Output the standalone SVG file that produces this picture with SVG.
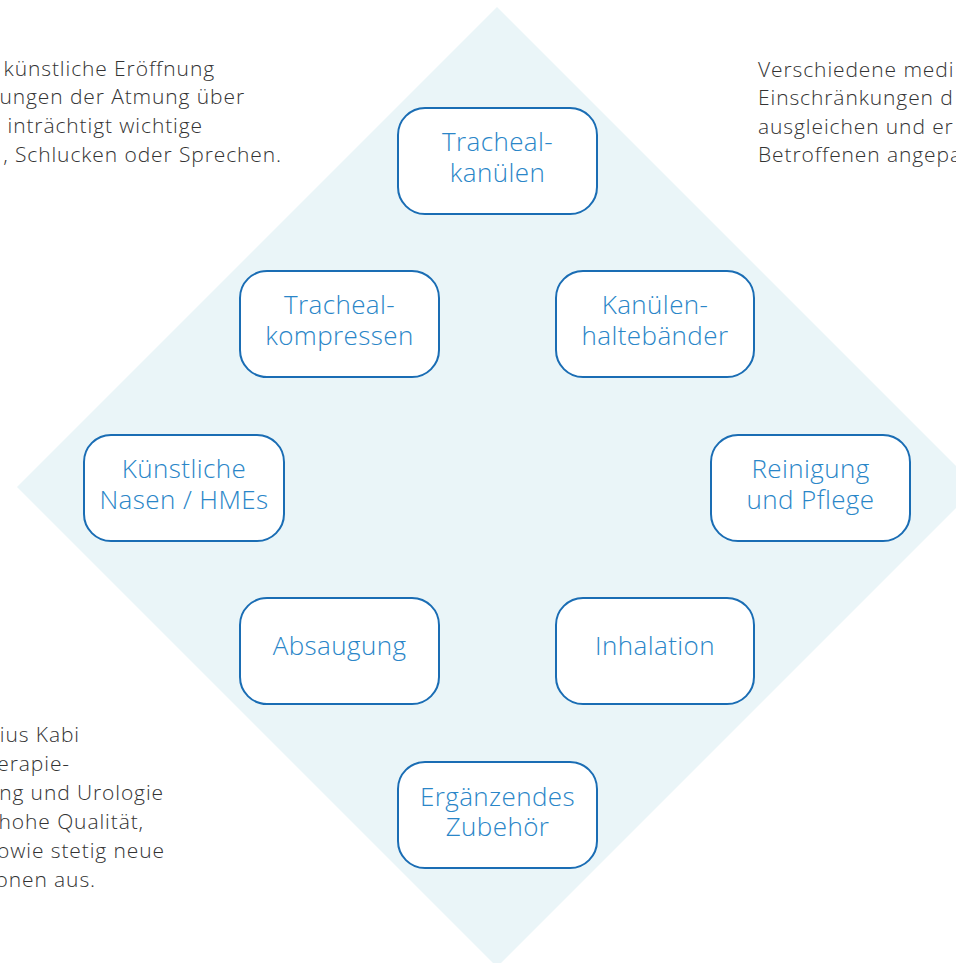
<svg xmlns="http://www.w3.org/2000/svg" width="956" height="963" viewBox="0 0 956 963">
  <style>
    .para { font-family: "Open Sans", "Liberation Sans", sans-serif; font-weight: 300; font-size: 21px; letter-spacing: 0.9px; fill: #333333; }
    .box { fill: #ffffff; stroke: #1a6db4; stroke-width: 2; }
    .lbl { font-family: "Open Sans", "Liberation Sans", sans-serif; font-weight: 300; font-size: 26px; letter-spacing: 0.4px; fill: #2a86c8; text-anchor: middle; }
  </style>
  <rect x="0" y="0" width="956" height="963" fill="#ffffff"/>
  <polygon points="497,7 977,487 497,967 17,487" fill="#eaf5f8"/>

  <g id="text-top-left" class="para" text-anchor="end">
    <text x="215" y="76">künstliche Eröffnung</text>
    <text x="245" y="104">ungen der Atmung über</text>
    <text x="203" y="133">inträchtigt wichtige</text>
    <text x="282" y="162">, Schlucken oder Sprechen.</text>
  </g>
  <g id="text-top-right" class="para">
    <text x="758" y="77">Verschiedene medi</text>
    <text x="758" y="105">Einschränkungen d</text>
    <text x="758" y="134">ausgleichen und er</text>
    <text x="758" y="162">Betroffenen angepa</text>
  </g>
  <g id="text-bottom-left" class="para" text-anchor="end">
    <text x="80" y="742">ius Kabi</text>
    <text x="70" y="771">herapie-</text>
    <text x="164" y="800">ng und Urologie</text>
    <text x="144" y="829">hohe Qualität,</text>
    <text x="165" y="858">owie stetig neue</text>
    <text x="96" y="887">onen aus.</text>
  </g>

  <g id="connectors"></g>

  <g id="node-trachealkanuelen">
    <rect class="box" x="398" y="108" width="199" height="106" rx="27"/>
    <text class="lbl" x="497.5" y="151">Tracheal-</text>
    <text class="lbl" x="497.5" y="182">kanülen</text>
  </g>
  <g id="node-trachealkompressen">
    <rect class="box" x="240" y="271" width="199" height="106" rx="27"/>
    <text class="lbl" x="339.5" y="314">Tracheal-</text>
    <text class="lbl" x="339.5" y="345">kompressen</text>
  </g>
  <g id="node-kanuelenhaltebaender">
    <rect class="box" x="556" y="271" width="198" height="106" rx="27"/>
    <text class="lbl" x="655" y="314">Kanülen-</text>
    <text class="lbl" x="655" y="345">haltebänder</text>
  </g>
  <g id="node-kuenstliche-nasen">
    <rect class="box" x="84" y="435" width="200" height="106" rx="27"/>
    <text class="lbl" x="184" y="478">Künstliche</text>
    <text class="lbl" x="184" y="509">Nasen / HMEs</text>
  </g>
  <g id="node-reinigung">
    <rect class="box" x="711" y="435" width="199" height="106" rx="27"/>
    <text class="lbl" x="810.5" y="478">Reinigung</text>
    <text class="lbl" x="810.5" y="509">und Pflege</text>
  </g>
  <g id="node-absaugung">
    <rect class="box" x="240" y="598" width="199" height="106" rx="27"/>
    <text class="lbl" x="339.5" y="655">Absaugung</text>
  </g>
  <g id="node-inhalation">
    <rect class="box" x="556" y="598" width="198" height="106" rx="27"/>
    <text class="lbl" x="655" y="655">Inhalation</text>
  </g>
  <g id="node-ergaenzendes-zubehoer">
    <rect class="box" x="398" y="762" width="199" height="106" rx="27"/>
    <text class="lbl" x="497.5" y="806">Ergänzendes</text>
    <text class="lbl" x="497.5" y="836">Zubehör</text>
  </g>
</svg>
